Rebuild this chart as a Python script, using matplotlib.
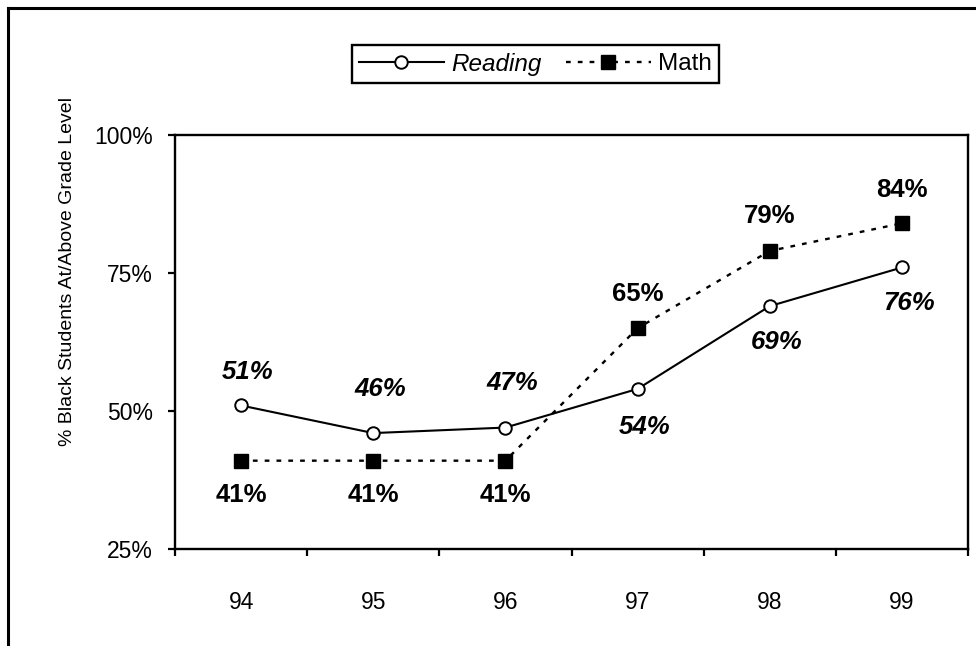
import matplotlib
matplotlib.use("Agg")
import matplotlib.pyplot as plt
from matplotlib.lines import Line2D
from matplotlib.ticker import FixedLocator, FuncFormatter

plt.rcParams['font.family'] = ['Liberation Sans', 'DejaVu Sans']

# Datos del grafico
years = ['94', '95', '96', '97', '98', '99']
reading = [51, 46, 47, 54, 69, 76]
math = [41, 41, 41, 65, 79, 84]
y_ticks = [25, 50, 75, 100]

# desplazamiento de etiquetas (px, + arriba)
reading_offsets = [33, 44, 45, -38, -36, -36]
math_offsets = [-34, -34, -34, 34, 35, 33]

fig = plt.figure(figsize=(9.76, 6.46), dpi=100)
ax = fig.add_axes([175 / 976, 1 - 549 / 646, (968 - 175) / 976, (549 - 135) / 646])

x = list(range(len(years)))
ax.plot(x, reading, color='black', lw=1.5, marker='o', ms=9, mfc='white', mec='black', mew=1.4,
        label='Reading')
ax.plot(x, math, color='black', lw=1.7, ls=(0, (2, 3)), marker='s', ms=10.5, mfc='black', mec='black',
        label='Math')

px = 72 / fig.dpi
for i, v in enumerate(reading):
    ax.annotate(f'{v}%', (x[i], v), xytext=(5, reading_offsets[i] * px), textcoords='offset points',
                ha='center', va='center', fontsize=18.5, fontweight='bold', fontstyle='italic')
for i, v in enumerate(math):
    ax.annotate(f'{v}%', (x[i], v), xytext=(0, math_offsets[i] * px), textcoords='offset points',
                ha='center', va='center', fontsize=18.5, fontweight='bold')

ax.set_xlim(-0.5, len(years) - 0.5)
ax.set_ylim(25, 100)
ax.set_yticks(y_ticks)
ax.yaxis.set_major_formatter(FuncFormatter(lambda v, p: f'{v:.0f}%'))
ax.set_xticks(x)
ax.set_xticklabels(years)
ax.xaxis.set_minor_locator(FixedLocator([i - 0.5 for i in range(len(years) + 1)]))

ax.tick_params(axis='x', which='major', length=0, pad=30, labelsize=16.5)
ax.tick_params(axis='x', which='minor', length=5, width=1.6, direction='out')
ax.tick_params(axis='y', length=5, width=1.6, direction='out', pad=11, labelsize=16.5)
for s in ax.spines.values():
    s.set_linewidth(1.7)

fig.text(68 / 976, 1 - 271 / 646, '% Black Students At/Above Grade Level', rotation=90,
         ha='center', va='center', fontsize=14)

# leyenda
h = [Line2D([], [], color='black', lw=1.5, marker='o', ms=9, mfc='white', mec='black', mew=1.4),
     Line2D([], [], color='black', lw=1.7, ls=(0, (2, 3)), marker='s', ms=10.5, mfc='black')]
leg = fig.legend(h, ['Reading', 'Math'], loc='center', bbox_to_anchor=(535.5 / 976, 1 - 64 / 646),
                 ncol=2, fontsize=17.5, handlelength=3.5, columnspacing=1.0, handletextpad=0.3,
                 borderpad=0.3, fancybox=False, framealpha=1, edgecolor='black')
leg.get_frame().set_linewidth(1.7)
leg.get_texts()[0].set_fontstyle('italic')

# borde exterior (solo izquierda y arriba)
fig.add_artist(Line2D([8 / 976, 8 / 976], [0, 1 - 8 / 646], color='black', lw=2.2, transform=fig.transFigure))
fig.add_artist(Line2D([8 / 976, 1], [1 - 8 / 646, 1 - 8 / 646], color='black', lw=2.2, transform=fig.transFigure))

fig.savefig('out.png', dpi=100)
